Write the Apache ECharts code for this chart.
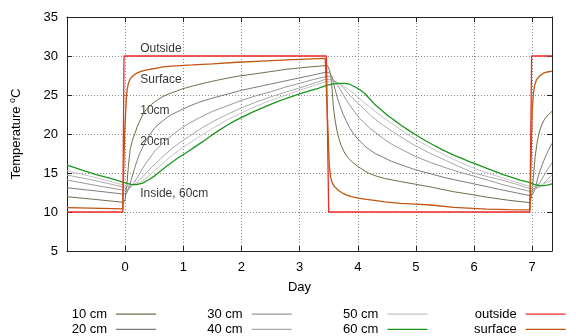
<!DOCTYPE html>
<html>
<head>
<meta charset="utf-8">
<script src="https://cdn.jsdelivr.net/npm/echarts@6/dist/echarts.min.js"></script>
<style>
  html, body { margin: 0; padding: 0; background: #fff; }
  #chart { width: 576px; height: 336px; }
</style>
</head>
<body>
<div id="chart"></div>
<script>
// Soil temperature response to a square-wave outside temperature, [day, °C]
const outside = [[-1,10],[-0.04,10],[-0.02,30],[3.46,30],[3.5,10],[6.96,10],[6.99,30],[7.34,30]];

const surface = [[-1,10.55],[-0.6,10.5],[-0.04,10.4],[-0.01,20],[0.02,24.5],[0.035,25.7],[0.056,26.5],[0.09,27.1],
  [0.14,27.5],[0.2,27.8],[0.26,28.0],[0.34,28.15],[0.43,28.3],[0.54,28.45],[0.65,28.6],[0.8,28.7],[0.94,28.76],
  [1.16,28.85],[1.5,29.0],[1.93,29.2],[2.35,29.35],[2.78,29.5],[3.1,29.6],[3.44,29.7],[3.49,20],[3.51,16],
  [3.53,14.6],[3.55,14.0],[3.57,13.6],[3.6,13.25],[3.63,13.0],[3.67,12.75],[3.72,12.5],[3.8,12.2],[3.89,11.96],
  [4.03,11.75],[4.18,11.6],[4.32,11.45],[4.46,11.3],[4.74,11.1],[5.0,11.0],[5.26,10.9],[5.65,10.6],[6.22,10.38],
  [6.6,10.3],[6.96,10.26],[6.99,20],[7.0,23],[7.02,25.2],[7.04,26.2],[7.07,26.9],[7.12,27.4],[7.19,27.8],
  [7.26,27.95],[7.34,28.05]];

const cm10 = [[-1,11.96],[-0.5,11.6],[-0.03,11.24],[0.0,11.6],[0.03,13.5],[0.055,15.8],[0.085,18],[0.125,19.2],
  [0.17,20.1],[0.21,21.0],[0.26,21.8],[0.31,22.6],[0.37,23.2],[0.45,23.8],[0.54,24.3],[0.65,24.8],[0.77,25.2],
  [0.88,25.5],[0.99,25.8],[1.16,26.15],[1.4,26.6],[1.65,27.0],[1.93,27.4],[2.22,27.7],[2.5,28.0],[2.78,28.3],
  [3.1,28.55],[3.44,28.76],[3.48,28.75],[3.51,28.3],[3.54,27.3],[3.56,25.6],[3.58,23.5],[3.61,21.8],[3.64,20.5],
  [3.68,19.3],[3.72,18.4],[3.78,17.5],[3.84,16.9],[3.92,16.3],[4.01,15.8],[4.09,15.4],[4.18,15.0],[4.32,14.6],
  [4.46,14.3],[4.6,14.1],[4.74,13.9],[5.0,13.55],[5.26,13.2],[5.45,12.9],[5.65,12.6],[5.95,12.25],[6.22,11.9],
  [6.6,11.5],[6.96,11.2],[6.99,12.0],[7.02,14.5],[7.05,17.1],[7.09,19.2],[7.13,20.5],[7.17,21.3],[7.22,22.0],
  [7.28,22.5],[7.34,22.9]];

const cm20 = [[-1,13.1],[-0.5,12.7],[-0.03,12.3],[0.02,12.4],[0.05,12.8],[0.075,13.4],[0.1,14.0],[0.15,15.3],
  [0.2,16.5],[0.25,17.5],[0.3,18.3],[0.36,19.2],[0.43,20.0],[0.51,20.8],[0.6,21.4],[0.7,22.0],[0.8,22.5],
  [0.94,23.0],[1.08,23.5],[1.28,24.1],[1.5,24.6],[1.75,25.1],[2.0,25.6],[2.25,26.0],[2.5,26.4],[2.75,26.8],
  [3.0,27.2],[3.22,27.55],[3.44,27.9],[3.5,27.9],[3.53,27.75],[3.55,27.5],[3.575,26.9],[3.6,26.0],[3.65,24.6],
  [3.7,23.5],[3.75,22.5],[3.8,21.7],[3.86,20.8],[3.93,20.0],[4.01,19.3],[4.1,18.6],[4.2,18.0],[4.3,17.5],
  [4.44,17.0],[4.58,16.5],[4.8,15.9],[5.0,15.4],[5.25,14.9],[5.5,14.4],[5.75,14.0],[6.0,13.6],[6.25,13.2],
  [6.5,12.8],[6.73,12.45],[6.96,12.1],[7.0,12.2],[7.03,12.6],[7.06,13.3],[7.1,14.5],[7.15,15.6],[7.2,16.6],
  [7.27,17.8],[7.34,18.8]];

const cm30 = [[-1,14.1],[-0.5,13.4],[-0.03,12.8],[0.05,12.9],[0.1,13.2],[0.15,13.7],[0.2,14.3],[0.25,14.95],
  [0.3,15.6],[0.37,16.4],[0.45,17.2],[0.52,17.9],[0.6,18.5],[0.7,19.2],[0.8,19.8],[0.94,20.6],[1.08,21.3],
  [1.28,22.1],[1.5,22.9],[1.75,23.6],[2.0,24.3],[2.25,24.9],[2.5,25.4],[2.75,26.0],[3.0,26.5],[3.22,26.95],
  [3.44,27.35],[3.5,27.4],[3.55,27.2],[3.58,26.95],[3.62,26.6],[3.66,26.2],[3.7,25.7],[3.75,25.05],[3.8,24.4],
  [3.87,23.6],[3.95,22.8],[4.02,22.1],[4.1,21.5],[4.2,20.8],[4.3,20.2],[4.44,19.4],[4.58,18.7],[4.8,17.85],
  [5.0,17.1],[5.25,16.35],[5.5,15.7],[5.75,15.1],[6.0,14.6],[6.25,14.05],[6.5,13.5],[6.73,13.05],[6.96,12.65],
  [7.0,12.7],[7.05,12.9],[7.1,13.4],[7.15,14.0],[7.2,14.65],[7.25,15.3],[7.34,16.3]];

const cm40 = [[-1,14.74],[-0.5,14.0],[-0.03,13.2],[0.05,13.2],[0.1,13.3],[0.15,13.5],[0.2,13.8],[0.25,14.15],
  [0.3,14.5],[0.37,15.1],[0.45,15.7],[0.52,16.2],[0.6,16.75],[0.7,17.45],[0.8,18.1],[0.94,18.9],[1.08,19.6],
  [1.28,20.6],[1.5,21.55],[1.75,22.5],[2.0,23.35],[2.25,24.1],[2.5,24.75],[2.75,25.35],[3.0,25.9],[3.22,26.45],
  [3.44,27.0],[3.52,27.0],[3.6,26.8],[3.65,26.6],[3.7,26.3],[3.75,25.95],[3.8,25.5],[3.87,24.9],[3.95,24.3],
  [4.02,23.8],[4.1,23.25],[4.2,22.55],[4.3,21.9],[4.44,21.1],[4.58,20.4],[4.8,19.35],[5.0,18.45],[5.25,17.5],
  [5.5,16.65],[5.75,15.8],[6.0,15.0],[6.25,14.5],[6.5,14.05],[6.73,13.55],[6.96,13.0],[7.05,13.0],[7.1,13.1],
  [7.15,13.35],[7.2,13.7],[7.27,14.2],[7.34,14.8]];

const cm50 = [[-1,15.3],[-0.5,14.4],[-0.03,13.46],[0.05,13.4],[0.1,13.4],[0.15,13.45],[0.2,13.6],[0.25,13.8],
  [0.3,14.0],[0.37,14.4],[0.45,14.9],[0.52,15.4],[0.6,15.9],[0.7,16.6],[0.8,17.2],[0.94,18.0],[1.08,18.7],
  [1.28,19.7],[1.5,20.7],[1.75,21.8],[2.0,22.7],[2.25,23.55],[2.5,24.3],[2.75,24.95],[3.0,25.6],[3.22,26.15],
  [3.44,26.7],[3.52,26.7],[3.6,26.6],[3.65,26.5],[3.7,26.35],[3.75,26.15],[3.8,25.9],[3.87,25.55],[3.95,25.1],
  [4.02,24.6],[4.1,24.1],[4.2,23.5],[4.3,22.9],[4.44,22.1],[4.58,21.35],[4.8,20.25],[5.0,19.3],[5.25,18.25],
  [5.5,17.3],[5.75,16.4],[6.0,15.6],[6.25,14.95],[6.5,14.35],[6.73,13.8],[6.96,13.3],[7.05,13.25],[7.1,13.3],
  [7.15,13.4],[7.2,13.6],[7.27,13.85],[7.34,14.1]];

const cm60 = [[-1,16.0],[-0.75,15.4],[-0.5,14.8],[-0.25,14.3],[-0.03,13.8],[0.1,13.55],[0.2,13.5],[0.3,13.7],
  [0.4,14.1],[0.5,14.6],[0.6,15.2],[0.7,15.8],[0.8,16.35],[0.9,16.9],[1.05,17.6],[1.2,18.35],[1.34,19.05],
  [1.48,19.8],[1.62,20.5],[1.76,21.15],[1.9,21.75],[2.05,22.3],[2.19,22.8],[2.33,23.25],[2.47,23.7],
  [2.62,24.15],[2.76,24.55],[2.9,24.9],[3.04,25.25],[3.18,25.55],[3.32,25.85],[3.41,26.1],[3.5,26.3],[3.58,26.42],
  [3.67,26.5],[3.78,26.5],[3.87,26.35],[3.95,26.06],[4.03,25.7],[4.12,25.2],[4.2,24.55],[4.29,23.8],[4.4,23.1],
  [4.52,22.35],[4.63,21.75],[4.75,21.1],[4.89,20.4],[5.03,19.75],[5.15,19.2],[5.26,18.75],[5.45,18.0],[5.65,17.3],
  [5.8,16.85],[5.94,16.4],[6.08,16.0],[6.22,15.6],[6.36,15.2],[6.5,14.8],[6.65,14.45],[6.79,14.1],
  [6.88,13.93],[6.96,13.76],[7.02,13.58],[7.07,13.46],[7.13,13.38],[7.19,13.37],[7.26,13.45],[7.34,13.6]];

// In-plot annotations: [day, °C, text]
const notes = [[0.26,31.0,'Outside'],[0.26,26.9,'Surface'],[0.26,22.95,'10cm'],[0.26,18.97,'20cm'],[0.26,12.4,'Inside, 60cm']];

const xTicks = { min: -1, max: 7.34, interval: 1 };
const yTicks = { min: 5, max: 35, interval: 5 };

const FONT = 'Liberation Sans, Arial, sans-serif';
const INK = '#000000';

const layers = [
  { name: '10 cm', data: cm10, color: '#6f6f4c', width: 1 },
  { name: '20 cm', data: cm20, color: '#7c7c7c', width: 1 },
  { name: '30 cm', data: cm30, color: '#999999', width: 1 },
  { name: '40 cm', data: cm40, color: '#aaaaaa', width: 1 },
  { name: '50 cm', data: cm50, color: '#c4c4c4', width: 1 },
  { name: '60 cm', data: cm60, color: '#1d961d', width: 1.3 },
  { name: 'outside', data: outside, color: '#ee2a2a', width: 1.3 },
  { name: 'surface', data: surface, color: '#c0560f', width: 1.3 }
];

const series = layers.map(l => ({
  name: l.name,
  type: 'line',
  data: l.data,
  color: l.color,
  showSymbol: false,
  symbol: 'none',
  lineStyle: { color: l.color, width: l.width },
  itemStyle: { color: l.color },
  emphasis: { disabled: true },
  animation: false
}));

series.push({
  type: 'scatter',
  data: notes,
  symbolSize: 0,
  silent: true,
  animation: false,
  label: {
    show: true,
    position: [0, 0],
    align: 'left',
    verticalAlign: 'middle',
    formatter: p => p.data[2],
    fontFamily: FONT,
    fontSize: 12,
    color: INK
  }
});

const legendBase = {
  orient: 'vertical',
  align: 'right',
  icon: 'rect',
  itemWidth: 40,
  itemHeight: 1.2,
  itemGap: 0,
  padding: 0,
  top: 306.5,
  height: 40,
  selectedMode: false,
  textStyle: { fontFamily: FONT, fontSize: 13, color: INK, lineHeight: 15.3, padding: [0, 4, 0, 0] }
};

const dotted = { show: true, lineStyle: { color: '#8a8a8a', width: 1, type: [1, 2] } };
const tickIn = { show: true, inside: true, length: 5, lineStyle: { color: '#222', width: 1 } };
const border = { show: true, onZero: false, lineStyle: { color: '#222', width: 1 } };

const option = {
  animation: false,
  backgroundColor: '#fff',
  grid: { left: 63, right: 24, top: 17, bottom: 85, containLabel: false },
  legend: [
    Object.assign({}, legendBase, { left: 71.7, data: ['10 cm', '20 cm'] }),
    Object.assign({}, legendBase, { left: 207.3, data: ['30 cm', '40 cm'] }),
    Object.assign({}, legendBase, { left: 343, data: ['50 cm', '60 cm'] }),
    Object.assign({}, legendBase, { left: 474, data: ['outside', 'surface'] })
  ],
  xAxis: [
    {
      type: 'value', position: 'bottom', min: xTicks.min, max: xTicks.max, interval: xTicks.interval,
      axisLine: border, axisTick: tickIn, splitLine: dotted,
      axisLabel: {
        fontFamily: FONT, fontSize: 13, color: INK, margin: 10,
        formatter: v => (v >= 0 && Math.abs(v - Math.round(v)) < 1e-9) ? String(Math.round(v)) : ''
      },
      name: 'Day', nameLocation: 'middle', nameGap: 30,
      nameTextStyle: { fontFamily: FONT, fontSize: 13, color: INK, padding: [0, 20, 0, 0] }
    },
    {
      type: 'value', position: 'top', min: xTicks.min, max: xTicks.max, interval: xTicks.interval,
      axisLine: border, axisTick: tickIn, splitLine: { show: false }, axisLabel: { show: false }
    }
  ],
  yAxis: [
    {
      type: 'value', position: 'left', min: yTicks.min, max: yTicks.max, interval: yTicks.interval,
      axisLine: border, axisTick: tickIn, splitLine: dotted,
      axisLabel: { fontFamily: FONT, fontSize: 13, color: INK, margin: 9 },
      name: '{t|Temperature }{s|o}{t|C}', nameLocation: 'middle', nameGap: 43, nameRotate: 90,
      nameTextStyle: {
        rich: {
          t: { fontFamily: FONT, fontSize: 13, color: INK, lineHeight: 16 },
          s: { fontFamily: FONT, fontSize: 9, color: INK, lineHeight: 16, verticalAlign: 'top' }
        }
      }
    },
    {
      type: 'value', position: 'right', min: yTicks.min, max: yTicks.max, interval: yTicks.interval,
      axisLine: border, axisTick: tickIn, splitLine: { show: false }, axisLabel: { show: false }
    }
  ],
  series: series
};

const chart = echarts.init(document.getElementById('chart'), null, { renderer: 'canvas' });
chart.setOption(option);
</script>
</body>
</html>
